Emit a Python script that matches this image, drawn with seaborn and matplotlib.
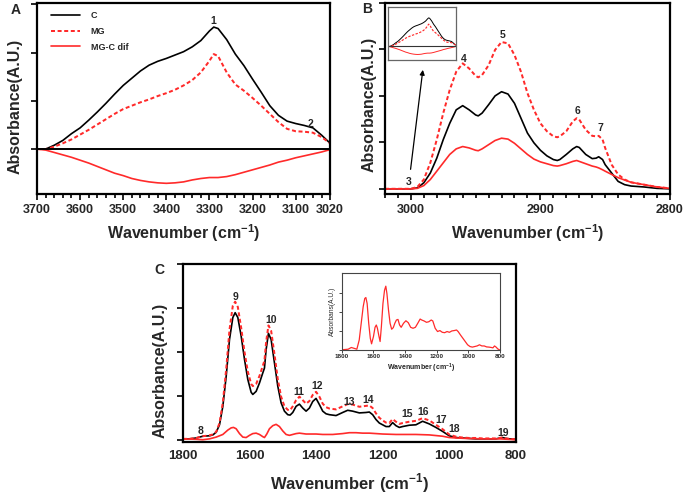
import numpy as np
import pandas as pd
import seaborn as sns
import matplotlib
matplotlib.use('Agg')
import matplotlib.pyplot as plt
from matplotlib.ticker import MultipleLocator

# ---------------- data ----------------
# Panel A (3700-3020 cm-1)
wn_a = [3700, 3680, 3660, 3640, 3620, 3600, 3580, 3560, 3540, 3520, 3500, 3480,
        3460, 3440, 3420, 3400, 3380, 3360, 3340, 3320, 3300, 3290, 3280, 3260,
        3240, 3220, 3200, 3180, 3160, 3140, 3120, 3100, 3080, 3060, 3040, 3020]
c_a = [0, 0.0, 0.08, 0.18, 0.32, 0.44, 0.6, 0.77, 0.95, 1.14, 1.32, 1.47,
       1.62, 1.74, 1.82, 1.88, 1.95, 2.02, 2.12, 2.25, 2.45, 2.53, 2.5, 2.27,
       1.97, 1.73, 1.45, 1.18, 0.9, 0.7, 0.58, 0.53, 0.49, 0.44, 0.29, 0.12]
mg_a = [0, 0.0, 0.05, 0.12, 0.2, 0.3, 0.4, 0.51, 0.62, 0.73, 0.83, 0.9,
        0.97, 1.03, 1.1, 1.16, 1.23, 1.32, 1.43, 1.59, 1.83, 1.97, 1.93, 1.59,
        1.34, 1.21, 1.06, 0.9, 0.73, 0.56, 0.42, 0.37, 0.36, 0.34, 0.25, 0.12]
dif_a = [0, -0.02, -0.07, -0.12, -0.17, -0.23, -0.29, -0.36, -0.43, -0.5, -0.55, -0.61,
         -0.65, -0.68, -0.7, -0.71, -0.7, -0.68, -0.64, -0.61, -0.59, -0.59, -0.59, -0.57,
         -0.53, -0.48, -0.43, -0.38, -0.33, -0.27, -0.23, -0.18, -0.14, -0.1, -0.06, -0.01]

# Panel B (3020-2800 cm-1)
wn_b = [3020, 3010, 3000, 2995, 2990, 2985, 2980, 2975, 2970, 2965, 2960, 2955,
        2950, 2948, 2945, 2940, 2935, 2930, 2925, 2920, 2915, 2910, 2905, 2900,
        2895, 2890, 2887, 2885, 2880, 2875, 2872, 2870, 2865, 2860, 2857, 2855,
        2852, 2850, 2845, 2840, 2835, 2830, 2820, 2810, 2800]
c_b = [0, 0, 0, 0.02, 0.13, 0.34, 0.66, 1.06, 1.41, 1.7, 1.79, 1.7,
       1.59, 1.57, 1.63, 1.81, 2.0, 2.09, 2.04, 1.84, 1.52, 1.2, 0.99, 0.83,
       0.71, 0.63, 0.61, 0.63, 0.74, 0.86, 0.91, 0.89, 0.74, 0.65, 0.66, 0.69,
       0.63, 0.52, 0.34, 0.16, 0.09, 0.06, 0.04, 0.01, 0]
mg_b = [0, 0, 0, 0.04, 0.2, 0.56, 1.06, 1.63, 2.13, 2.52, 2.7, 2.59,
        2.43, 2.4, 2.45, 2.66, 2.99, 3.16, 3.13, 2.88, 2.52, 2.06, 1.7, 1.41,
        1.24, 1.13, 1.11, 1.13, 1.24, 1.45, 1.52, 1.49, 1.27, 1.14, 1.13, 1.14,
        1.06, 0.88, 0.52, 0.31, 0.2, 0.14, 0.09, 0.04, 0.01]
dif_b = [0, 0, 0, 0.01, 0.07, 0.2, 0.38, 0.56, 0.74, 0.86, 0.91, 0.88,
         0.83, 0.82, 0.86, 0.95, 1.04, 1.09, 1.07, 0.98, 0.86, 0.74, 0.64, 0.58,
         0.54, 0.5, 0.49, 0.5, 0.54, 0.59, 0.61, 0.59, 0.54, 0.49, 0.47, 0.45,
         0.41, 0.38, 0.31, 0.24, 0.19, 0.14, 0.09, 0.04, 0.01]

# Panel C (1800-800 cm-1)
wn_c = [1800, 1780, 1760, 1740, 1720, 1710, 1700, 1690, 1680, 1670,
        1660, 1650, 1643, 1635, 1625, 1615, 1605, 1595, 1590, 1580,
        1570, 1560, 1555, 1550, 1543, 1535, 1525, 1515, 1505, 1495,
        1485, 1478, 1470, 1460, 1450, 1440, 1430, 1420, 1410, 1400,
        1390, 1380, 1370, 1360, 1340, 1320, 1305, 1290, 1270, 1250,
        1240, 1230, 1220, 1210, 1200, 1190, 1180, 1170, 1160, 1150,
        1140, 1120, 1100, 1080, 1060, 1040, 1020, 1000, 980, 960,
        940, 920, 900, 880, 860, 840, 830, 820, 800]
c_c = [0.02, 0.02, 0.04, 0.08, 0.09, 0.11, 0.17, 0.34, 0.76, 1.44,
       2.28, 2.78, 2.89, 2.78, 2.36, 1.83, 1.37, 1.08, 1.03, 1.1,
       1.29, 1.52, 1.63, 2.05, 2.42, 2.28, 1.75, 1.22, 0.84, 0.65,
       0.57, 0.56, 0.62, 0.76, 0.81, 0.72, 0.65, 0.72, 0.87, 0.94,
       0.8, 0.65, 0.59, 0.57, 0.55, 0.62, 0.67, 0.65, 0.61, 0.62,
       0.63, 0.57, 0.46, 0.38, 0.34, 0.3, 0.3, 0.39, 0.32, 0.28,
       0.3, 0.33, 0.34, 0.42, 0.36, 0.28, 0.19, 0.09, 0.05, 0.04,
       0.03, 0.02, 0.02, 0.02, 0.02, 0.05, 0.03, 0.02, 0.01]
mg_c = [0.02, 0.02, 0.04, 0.08, 0.1, 0.12, 0.18, 0.38, 0.85, 1.6,
        2.5, 3.05, 3.14, 3.02, 2.55, 2.0, 1.55, 1.27, 1.22, 1.27,
        1.45, 1.68, 1.8, 2.22, 2.6, 2.48, 1.95, 1.38, 0.98, 0.76,
        0.68, 0.67, 0.76, 0.9, 0.98, 0.9, 0.82, 0.88, 1.02, 1.09,
        0.98, 0.82, 0.74, 0.71, 0.69, 0.76, 0.81, 0.8, 0.75, 0.77,
        0.78, 0.72, 0.6, 0.5, 0.44, 0.39, 0.38, 0.47, 0.41, 0.36,
        0.38, 0.41, 0.43, 0.49, 0.44, 0.34, 0.24, 0.12, 0.07, 0.05,
        0.04, 0.04, 0.03, 0.03, 0.03, 0.05, 0.03, 0.02, 0.01]
wn_cd = [1800, 1760, 1740, 1720, 1700, 1680, 1665, 1655, 1648, 1640,
         1630, 1620, 1610, 1600, 1590, 1580, 1570, 1560, 1555, 1548,
         1540, 1530, 1520, 1510, 1500, 1490, 1480, 1470, 1460, 1450,
         1440, 1430, 1400, 1380, 1350, 1320, 1300, 1280, 1260, 1240,
         1200, 1160, 1100, 1060, 1020, 1000, 980, 950, 900, 850, 800]
dif_c = [0.02, 0.01, 0.0, 0.02, 0.06, 0.12, 0.22, 0.27, 0.28, 0.25,
         0.14, 0.06, 0.05, 0.1, 0.14, 0.15, 0.12, 0.07, 0.05, 0.13,
         0.25, 0.32, 0.35, 0.3, 0.2, 0.12, 0.1, 0.12, 0.14, 0.15,
         0.14, 0.13, 0.13, 0.12, 0.12, 0.14, 0.16, 0.16, 0.15, 0.15,
         0.13, 0.12, 0.12, 0.11, 0.08, 0.05, 0.04, 0.03, 0.02, 0.02, 0.0]

# inset of panel C: difference spectrum, expanded
wn_ci = [1800, 1760, 1740, 1720, 1705, 1690, 1675, 1665, 1655, 1648,
         1640, 1630, 1620, 1612, 1600, 1590, 1582, 1575, 1565, 1558,
         1550, 1540, 1530, 1522, 1515, 1505, 1495, 1485, 1475, 1465,
         1455, 1445, 1435, 1425, 1410, 1395, 1380, 1365, 1350, 1335,
         1320, 1305, 1295, 1280, 1265, 1250, 1235, 1225, 1210, 1195,
         1180, 1165, 1150, 1135, 1120, 1105, 1090, 1075, 1065, 1050,
         1035, 1020, 1005, 990, 975, 960, 945, 930, 915, 900,
         885, 870, 855, 845, 835, 825, 815, 800]
ins_c = [0.02, 0.05, 0.14, 0.09, 0.05, 0.53, 1.57, 2.26, 2.69, 2.74,
         2.43, 1.4, 0.62, 0.33, 0.71, 1.19, 1.31, 1.14, 0.71, 0.45,
         1.22, 2.43, 3.12, 3.33, 2.95, 2.09, 1.4, 1.09, 1.17, 1.4,
         1.57, 1.6, 1.31, 1.19, 1.4, 1.53, 1.43, 1.19, 1.14, 1.19,
         1.4, 1.62, 1.57, 1.52, 1.45, 1.48, 1.57, 1.52, 1.14, 0.97,
         1.02, 0.93, 0.91, 0.97, 0.93, 1.0, 1.02, 1.05, 0.97, 0.79,
         0.62, 0.45, 0.28, 0.19, 0.16, 0.19, 0.22, 0.28, 0.22, 0.22,
         0.17, 0.16, 0.14, 0.12, 0.22, 0.16, 0.07, 0.0]

# peak numbers (label, wavenumber, height)
peaks_a = [('1', 3292, 2.65), ('2', 3066, 0.52)]
peaks_b = [('3', 3002, 0.15), ('4', 2959, 2.8), ('5', 2929, 3.3),
           ('6', 2871, 1.68), ('7', 2854, 1.3)]
peaks_c = [('8', 1746, 0.2), ('9', 1641, 3.25), ('10', 1536, 2.73),
           ('11', 1451, 1.09), ('12', 1397, 1.23), ('13', 1302, 0.86),
           ('14', 1244, 0.91), ('15', 1125, 0.59), ('16', 1078, 0.64),
           ('17', 1024, 0.45), ('18', 986, 0.25), ('19', 837, 0.16)]

# ---------------- styling ----------------
sns.set_style('ticks')
plt.rcParams['font.family'] = ['Liberation Sans', 'DejaVu Sans']
plt.rcParams['font.weight'] = 'bold'
plt.rcParams['mathtext.fontset'] = 'custom'
plt.rcParams['mathtext.rm'] = 'Liberation Sans'
plt.rcParams['mathtext.bf'] = 'Liberation Sans:bold'

RED = '#ff2a2a'
DASH = (0, (2.0, 1.3))
XLAB = 'Wavenumber (cm$^{\\mathbf{-1}}$)'


def style_axes(ax, lw=1.6):
    for s in ax.spines.values():
        s.set_linewidth(lw)
        s.set_color('black')
    ax.tick_params(axis='both', which='both', direction='out', width=1.2, color='black')
    ax.tick_params(axis='both', which='major', length=4, labelsize=9, pad=3)
    ax.tick_params(axis='both', which='minor', length=3)
    ax.tick_params(axis='y', labelleft=False)
    for lab in ax.get_xticklabels():
        lab.set_fontweight('bold')


def draw_three(ax, x, c, mg, dif_x, dif, lw=1.2, labels=True):
    sns.lineplot(x=x, y=c, ax=ax, color='black', lw=lw, estimator=None, sort=False,
                 label='C' if labels else None)
    sns.lineplot(x=x, y=mg, ax=ax, color=RED, lw=lw * 1.2, linestyle=DASH,
                 estimator=None, sort=False, label='MG' if labels else None)
    sns.lineplot(x=dif_x, y=dif, ax=ax, color=RED, lw=lw, estimator=None, sort=False,
                 label='MG-C dif' if labels else None)


fig = plt.figure(figsize=(6.85, 4.96), dpi=100)

# ---------------- panel A ----------------
axA = fig.add_axes([0.054, 0.609, 0.428, 0.385])
draw_three(axA, wn_a, c_a, mg_a, wn_a, dif_a)
axA.axhline(0, color='black', lw=1.4)
axA.set_xlim(3700, 3020)
axA.set_ylim(-0.93, 3.03)
axA.set_xticks([3700, 3600, 3500, 3400, 3300, 3200, 3100, 3020])
axA.xaxis.set_minor_locator(MultipleLocator(20))
axA.set_yticks([0, 1, 2, 3])
style_axes(axA)
axA.set_xlabel(XLAB, fontsize=11.5, fontweight='bold')
axA.set_ylabel('Absorbance(A.U.)', fontsize=11.5, fontweight='bold')
axA.xaxis.set_label_coords(0.5, -0.15)
axA.yaxis.set_label_coords(-0.05, 0.46)
leg = axA.legend(loc='upper left', bbox_to_anchor=(0.02, 1.0), frameon=False,
                 prop={'weight': 'bold', 'size': 6.5}, handlelength=3.2,
                 handletextpad=1.2, labelspacing=0.75)
for t, x, y in peaks_a:
    axA.text(x, y, t, ha='center', va='center', fontsize=7.5, fontweight='bold')
fig.text(16 / 685, 1 - 10 / 496, 'A', fontsize=10, fontweight='bold', ha='center', va='center')

# ---------------- panel B ----------------
axB = fig.add_axes([0.562, 0.609, 0.416, 0.385])
draw_three(axB, wn_b, c_b, mg_b, wn_b, dif_b, labels=False)
axB.set_xlim(3020, 2800)
axB.set_ylim(-0.11, 4.0)
axB.set_xticks([3000, 2900, 2800])
axB.xaxis.set_minor_locator(MultipleLocator(10))
axB.set_yticks([0, 1, 2, 3, 4])
style_axes(axB)
axB.set_xlabel(XLAB, fontsize=11.5, fontweight='bold')
axB.set_ylabel('Absorbance(A.U.)', fontsize=11.5, fontweight='bold')
axB.xaxis.set_label_coords(0.5, -0.15)
axB.yaxis.set_label_coords(-0.03, 0.47)
for t, x, y in peaks_b:
    axB.text(x, y, t, ha='center', va='center', fontsize=7.5, fontweight='bold')
axB.annotate('', xy=(2990.5, 2.62), xytext=(3000.5, 0.36),
             arrowprops=dict(arrowstyle='-|>', color='black', lw=0.9, mutation_scale=7))
fig.text(367 / 685, 1 - 9 / 496, 'B', fontsize=10, fontweight='bold', ha='center', va='center')

# inset of B: small copy of panel A
axBi = fig.add_axes([0.566, 0.879, 0.099, 0.107])
draw_three(axBi, wn_a, c_a, mg_a, wn_a, dif_a, lw=0.7, labels=False)
axBi.axhline(0, color='#333333', lw=0.8)
axBi.set_xlim(3700, 3020)
axBi.set_ylim(-1.2, 3.5)
axBi.set_xticks([])
axBi.set_yticks([])
axBi.set_xlabel('')
axBi.set_ylabel('')
for s in axBi.spines.values():
    s.set_color('#666666')
    s.set_linewidth(0.9)

# ---------------- panel C ----------------
axC = fig.add_axes([0.267, 0.109, 0.486, 0.359])
draw_three(axC, wn_c, c_c, mg_c, wn_cd, dif_c, labels=False)
axC.set_xlim(1800, 800)
axC.set_ylim(-0.05, 4.0)
axC.set_xticks([1800, 1600, 1400, 1200, 1000, 800])
axC.set_yticks([0, 1, 2, 3, 4])
style_axes(axC)
axC.tick_params(axis='x', which='major', length=0, labelsize=9.5, pad=6)
axC.set_xlabel(XLAB, fontsize=12, fontweight='bold')
axC.set_ylabel('Absorbance(A.U.)', fontsize=11.5, fontweight='bold')
axC.xaxis.set_label_coords(0.5, -0.165)
axC.yaxis.set_label_coords(-0.045, 0.4)
for t, x, y in peaks_c:
    axC.text(x, y, t, ha='center', va='center', fontsize=7.5, fontweight='bold')
fig.text(159 / 685, 1 - 270 / 496, 'C', fontsize=10, fontweight='bold', ha='center', va='center')

# inset of C
axCi = fig.add_axes([0.499, 0.294, 0.231, 0.155])
sns.lineplot(x=wn_ci, y=ins_c, ax=axCi, color=RED, lw=0.9, estimator=None, sort=False)
axCi.set_xlim(1800, 800)
axCi.set_ylim(0, 4.0)
axCi.set_xticks([1800, 1600, 1400, 1200, 1000, 800])
axCi.set_yticks([0, 1, 2, 3])
for s in axCi.spines.values():
    s.set_color('#444444')
    s.set_linewidth(0.8)
axCi.tick_params(axis='both', direction='out', length=2, width=0.6, labelsize=4.5, pad=1)
axCi.tick_params(axis='y', labelleft=False)
for lab in axCi.get_xticklabels():
    lab.set_fontweight('bold')
axCi.set_xlabel(XLAB, fontsize=5, fontweight='bold', labelpad=2)
axCi.set_ylabel('Absorbans(A.U.)', fontsize=4.8, fontweight='normal', labelpad=2)

fig.savefig('out.png', dpi=100)
